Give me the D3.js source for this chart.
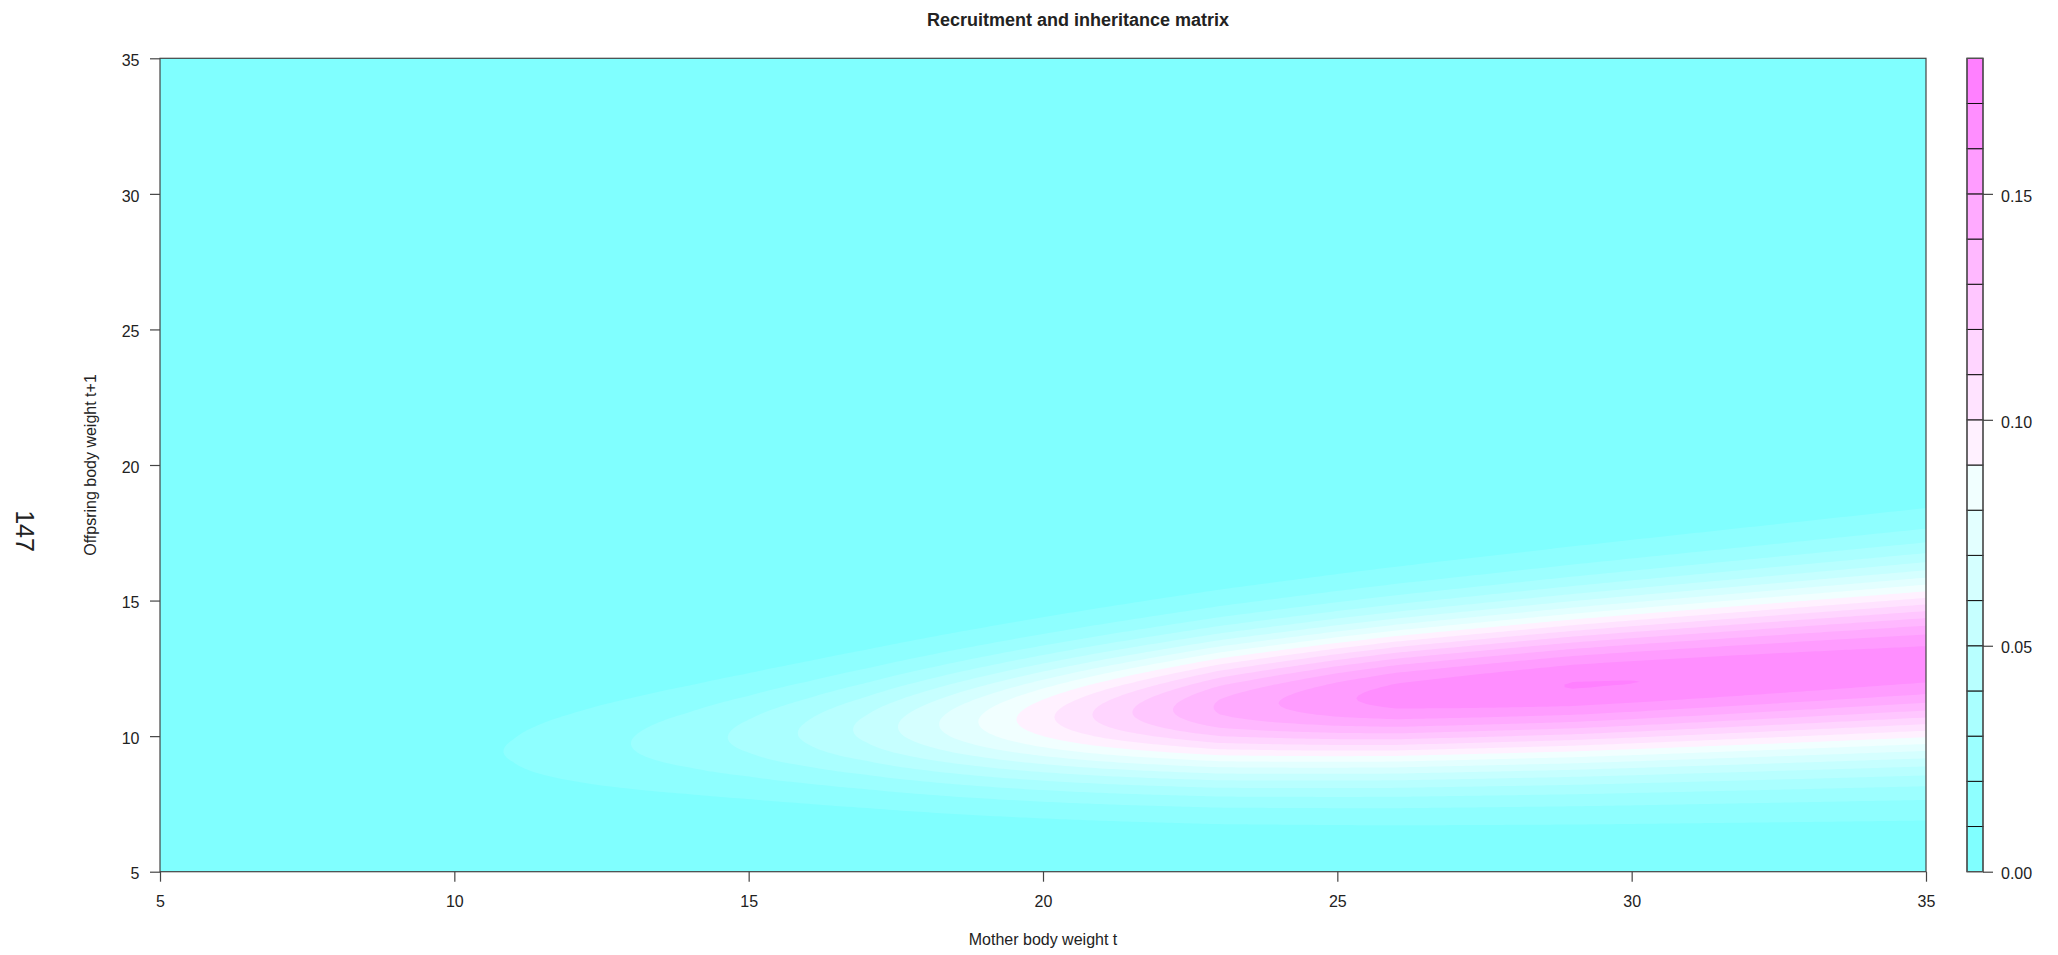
<!DOCTYPE html>
<html>
<head>
<meta charset="utf-8">
<title>Recruitment and inheritance matrix</title>
<script src="https://cdn.jsdelivr.net/npm/d3@7"></script>
<style>
    body { margin: 0; background: #fff; }
    svg text { font-family: "Liberation Sans", Arial, sans-serif; fill: #222; }
</style>
</head>
<body>
<div id="kernelPlot"></div>
<script>
{
    /*#########
      Data
    #########*/

    // mother body weight where the ridge of the kernel was read
    const motherWeight = [5, 7.5, 10, 11, 12, 13, 14, 15, 16, 17, 18, 19, 20, 21, 22, 23, 24, 25, 26, 27, 28, 29, 30, 31, 32, 33, 34, 35];
    // highest density of offspring weight for each mother weight
    const ridgeDensity = [0.0016, 0.0035, 0.0075, 0.0105, 0.015, 0.020, 0.0255, 0.0325, 0.0415, 0.0525, 0.0665, 0.0815, 0.097, 0.1125, 0.127, 0.1415, 0.150, 0.158, 0.1642, 0.1665, 0.1685, 0.1703, 0.1701, 0.1694, 0.1687, 0.1679, 0.1670, 0.1662];

    // centre and spread of offspring weight (read at 4 mother weights)
    const spreadWeight = [5, 15, 25, 35];
    const offspringMean = [8.65, 10.0, 11.35, 12.65];
    const offspringSd = [1.07, 1.51, 1.97, 2.43];

    // contour levels and their colours (cm.colors(18))
    const levels = [0, 0.01, 0.02, 0.03, 0.04, 0.05, 0.06, 0.07, 0.08, 0.09, 0.10, 0.11, 0.12, 0.13, 0.14, 0.15, 0.16, 0.17, 0.18];
    const levelColors = ["#80FFFF", "#8EFFFF", "#9CFFFF", "#AAFFFF", "#B8FFFF", "#C6FFFF", "#D5FFFF", "#E3FFFF", "#F1FFFF",
                         "#FFF1FF", "#FFE3FF", "#FFD5FF", "#FFC6FF", "#FFB8FF", "#FFAAFF", "#FF9CFF", "#FF8EFF", "#FF80FF"];

    // tick labels
    const xTicks = [5, 10, 15, 20, 25, 30, 35];
    const yTicks = [5, 10, 15, 20, 25, 30, 35];
    const keyTicks = [0, 0.05, 0.10, 0.15];

    /*#########
      Global
    #########*/
    const W = 2058, H = 955;
    const plot = { left: 160, right: 1926, top: 58.3, bottom: 871.7 };
    const key = { left: 1967, right: 1983 };

    const svg = d3.select('#kernelPlot')
        .append('svg')
        .attr('width', W)
        .attr('height', H)
        .style('display', 'block')

    // scales
    const x = d3.scaleLinear().domain([5, 35]).range([plot.left, plot.right]);
    const y = d3.scaleLinear().domain([5, 35]).range([plot.bottom, plot.top]);
    const keyY = d3.scaleLinear().domain([0, 0.18]).range([plot.bottom, plot.top]);

    const peakAt = d3.scaleLinear().domain(motherWeight).range(ridgeDensity).clamp(true);
    const meanAt = d3.scaleLinear().domain(spreadWeight).range(offspringMean);
    const sdAt = d3.scaleLinear().domain(spreadWeight).range(offspringSd);

    /*#############
      Grid values
    #############*/
    const nx = 401, ny = 301;
    const stepX = 30 / (nx - 1), stepY = 30 / (ny - 1);
    const values = new Array(nx * ny);
    for (let j = 0; j < ny; j++) {
        const oy = 5 + j * stepY;
        for (let i = 0; i < nx; i++) {
            const mx = 5 + i * stepX;
            const m = meanAt(mx), s = sdAt(mx);
            values[j * nx + i] = peakAt(mx) * Math.exp(-((oy - m) * (oy - m)) / (2 * s * s));
        }
    }

    const contours = d3.contours()
        .size([nx, ny])
        .thresholds(levels.slice(0, -1))(values);

    const gridProj = d3.geoTransform({
        point: function(gx, gy) {
            this.stream.point(x(5 + (gx - 0.5) * stepX), y(5 + (gy - 0.5) * stepY));
        }
    });
    const path = d3.geoPath(gridProj);

    /*#########
      Filled contours
    #########*/
    svg.append('clipPath').attr('id', 'plotClip')
        .append('rect')
        .attr('x', plot.left).attr('y', plot.top)
        .attr('width', plot.right - plot.left).attr('height', plot.bottom - plot.top)

    svg.append('g')
        .attr('clip-path', 'url(#plotClip)')
        .selectAll('path')
        .data(contours)
        .join('path')
        .attr('d', path)
        .attr('fill', (d, i) => levelColors[i])
        .attr('stroke', 'none')

    // box
    svg.append('rect')
        .attr('x', plot.left).attr('y', plot.top)
        .attr('width', plot.right - plot.left).attr('height', plot.bottom - plot.top)
        .attr('fill', 'none')
        .attr('stroke', '#444')
        .attr('stroke-width', 1.2)

    /*#########
      Axes
    #########*/
    const xAxis = svg.append('g')
        .attr('transform', 'translate(0,' + plot.bottom + ')')
        .call(d3.axisBottom(x).tickValues(xTicks).tickSize(10).tickPadding(14).tickFormat(d3.format('d')))
    const yAxis = svg.append('g')
        .attr('transform', 'translate(' + plot.left + ',0)')
        .call(d3.axisLeft(y).tickValues(yTicks).tickSize(10).tickPadding(10.5).tickFormat(d3.format('d')))
    yAxis.selectAll('text').attr('dy', '0.45em')

    ;[xAxis, yAxis].forEach(a => {
        a.select('.domain').remove()
        a.selectAll('line').attr('stroke', '#444').attr('stroke-width', 1.2)
        a.selectAll('text').style('font-size', '16px').attr('fill', '#222')
    })

    /*#########
      Colour key
    #########*/
    svg.append('g')
        .selectAll('rect')
        .data(levelColors)
        .join('rect')
        .attr('x', key.left)
        .attr('y', (d, i) => keyY(levels[i + 1]))
        .attr('width', key.right - key.left)
        .attr('height', (d, i) => keyY(levels[i]) - keyY(levels[i + 1]))
        .attr('fill', d => d)
        .attr('stroke', '#111')
        .attr('stroke-width', 1)

    svg.append('rect')
        .attr('x', key.left).attr('y', plot.top)
        .attr('width', key.right - key.left).attr('height', plot.bottom - plot.top)
        .attr('fill', 'none')
        .attr('stroke', '#555')
        .attr('stroke-width', 1.2)

    const keyAxis = svg.append('g')
        .attr('transform', 'translate(' + key.right + ',0)')
        .call(d3.axisRight(keyY).tickValues(keyTicks).tickSize(10).tickPadding(8).tickFormat(d3.format('.2f')))
    keyAxis.select('.domain').remove()
    keyAxis.selectAll('line').attr('stroke', '#444').attr('stroke-width', 1.2)
    keyAxis.selectAll('text').style('font-size', '16px').attr('fill', '#1c1c3a').attr('dy', '0.45em')

    /*#########
      Titles
    #########*/
    svg.append('text')
        .attr('x', 1078).attr('y', 26)
        .attr('text-anchor', 'middle')
        .style('font-size', '18px')
        .style('font-weight', 'bold')
        .attr('fill', '#000')
        .text('Recruitment and inheritance matrix')

    svg.append('text')
        .attr('x', (plot.left + plot.right) / 2).attr('y', 945)
        .attr('text-anchor', 'middle')
        .style('font-size', '16px')
        .text('Mother body weight t')

    svg.append('text')
        .attr('transform', 'translate(96,' + ((plot.top + plot.bottom) / 2) + ') rotate(-90)')
        .attr('text-anchor', 'middle')
        .style('font-size', '16px')
        .text('Offpsring body weight t+1')

    svg.append('text')
        .attr('transform', 'translate(16,531) rotate(90)')
        .attr('text-anchor', 'middle')
        .style('font-size', '25px')
        .attr('fill', '#000')
        .text('147')
}
</script>
</body>
</html>
